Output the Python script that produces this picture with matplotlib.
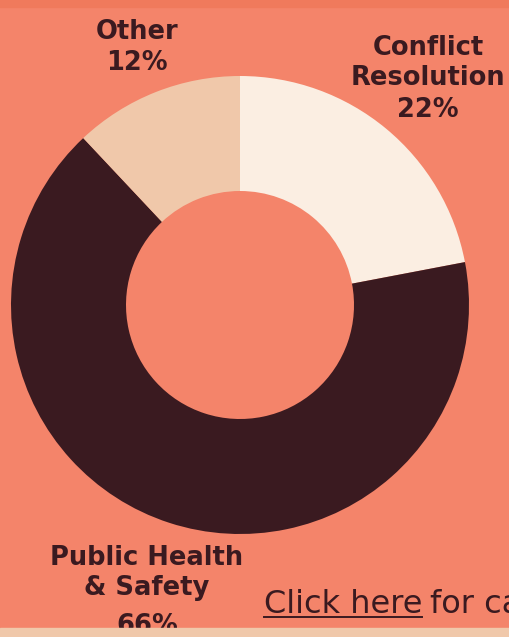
import matplotlib.pyplot as plt
from matplotlib.patches import Rectangle

# données du graphique
labels = ["Conflict\nResolution", "Public Health\n& Safety", "Other"]
values = [22, 66, 12]
colors = ["#FBEEE2", "#3A1A20", "#F0C8AA"]

BG = "#F4846A"
DARK = "#3A1A20"
W, H = 509, 637


def y(py):
    # coordonnées en pixels, origine en haut
    return H - py


fig = plt.figure(figsize=(W / 100, H / 100), dpi=100, facecolor=BG)
ax = fig.add_axes([0, 0, 1, 1])
ax.set_facecolor(BG)

# bandes haut et bas
ax.add_patch(Rectangle((0, y(7)), W, 7, color="#F07A5C", zorder=5))
ax.add_patch(Rectangle((0, 0), W, H - 628, color="#F0C8AA", zorder=5))

ax.pie(values, colors=colors, startangle=90, counterclock=False,
       center=(240, y(305)), radius=229, frame=True,
       wedgeprops=dict(width=115, linewidth=0))
ax.set_xlim(0, W)
ax.set_ylim(0, H)
ax.set_aspect("equal")
ax.axis("off")

font = dict(color=DARK, fontweight="bold", fontsize=18.5, ha="center",
            va="top", linespacing=1.22, family="DejaVu Sans")
# (x, haut du libellé, haut du pourcentage)
label_pos = [(428, 35, 97), (147, 545, 613), (137, 19, 50)]
for lab, v, (px, py, pp) in zip(labels, values, label_pos):
    ax.text(px, y(py), lab, **font)
    ax.text(px, y(pp), f"{v}%", **font)

link = ax.text(264, y(613), "Click here", color=DARK, fontsize=23,
               ha="left", va="baseline", family="DejaVu Sans")
fig.canvas.draw()
bb = link.get_window_extent().transformed(ax.transData.inverted())
ax.plot([264, bb.x1], [y(617), y(617)], color=DARK, linewidth=1.4)
ax.text(bb.x1 + 8, y(613), "for ca", color=DARK, fontsize=23,
        ha="left", va="baseline", family="DejaVu Sans")

fig.savefig("out.png", dpi=100, facecolor=BG)
